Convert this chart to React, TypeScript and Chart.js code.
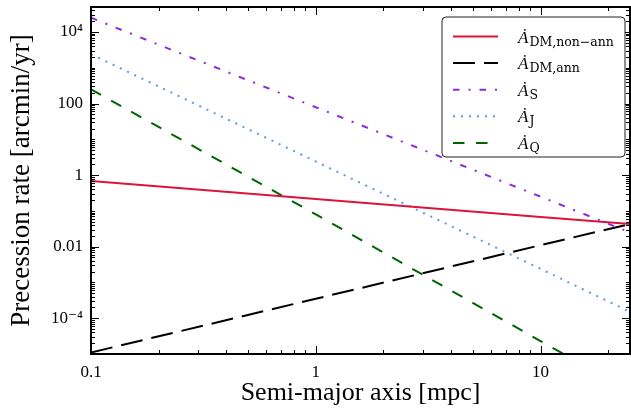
import React, { useEffect, useRef } from 'react';
import { Chart, registerables } from 'chart.js';

Chart.register(...registerables);

// Semi-major axis [mpc]
const xValues = [0.1, 1, 10, 25];
// Precession rates [arcmin/yr]
const dmNonAnn = [0.68, 0.215, 0.068, 0.043];
const dmAnn = [1.1e-5, 3.5e-4, 0.011, 0.043];
const rateS = [2.5e4, 79, 0.25, 0.025];
const rateJ = [2400, 2.4, 0.0024, 1.5e-4];
const rateQ = [250, 0.08, 2.3e-5, 9.3e-7];

const seriesLabels = ['Ȧ_DM,non−ann', 'Ȧ_DM,ann', 'Ȧ_S', 'Ȧ_J', 'Ȧ_Q'];
const legendMain = ['Ȧ', 'Ȧ', 'Ȧ', 'Ȧ', 'Ȧ'];
const legendSubs = ['DM,non−ann', 'DM,ann', 'S', 'J', 'Q'];

const xTickValues = [0.1, 1, 10];
const xTickLabels = ['0.1', '1', '10'];
const yTickValues = [1e-4, 0.01, 1, 100, 1e4];
const yTickLabels = ['10⁻⁴', '0.01', '1', '100', '10⁴'];

const xTitle = 'Semi-major axis [mpc]';
const yTitle = 'Precession rate [arcmin/yr]';

const SERIF = '"Liberation Serif", "DejaVu Serif", serif';

const styles = [
  { color: '#dc143c', dash: [] as number[] },
  { color: '#000000', dash: [22, 9] },
  { color: '#8a2be2', dash: [6.5, 9, 2, 9] },
  { color: '#6495ed', dash: [2, 6] },
  { color: '#006400', dash: [11.5, 11.5] },
];

function logTicks(min: number, max: number) {
  const out: number[] = [];
  const e0 = Math.floor(Math.log10(min));
  const e1 = Math.ceil(Math.log10(max));
  for (let e = e0; e <= e1; e++) {
    for (let k = 1; k <= 9; k++) {
      const v = k * Math.pow(10, e);
      if (v >= min * 0.9999 && v <= max * 1.0001) out.push(v);
    }
  }
  return out;
}

function isMajor(v: number, list: number[]) {
  return list.some((m) => Math.abs(Math.log10(v) - Math.log10(m)) < 1e-6);
}

const framePlugin = {
  id: 'mplFrame',
  afterDatasetsDraw(chart: any) {
    const { ctx, chartArea } = chart;
    const { left, right, top, bottom } = chartArea;
    const xs = chart.scales.x;
    const ys = chart.scales.y;
    ctx.save();
    ctx.strokeStyle = '#000';
    ctx.lineWidth = 1;
    ctx.beginPath();
    for (const v of logTicks(xs.min, xs.max)) {
      const px = Math.round(xs.getPixelForValue(v)) + 0.5;
      const len = isMajor(v, xTickValues) ? 8 : 4;
      ctx.moveTo(px, bottom);
      ctx.lineTo(px, bottom - len);
      ctx.moveTo(px, top);
      ctx.lineTo(px, top + len);
    }
    for (const v of logTicks(ys.min, ys.max)) {
      const py = Math.round(ys.getPixelForValue(v)) + 0.5;
      const len = isMajor(v, yTickValues) ? 8 : 4;
      ctx.moveTo(left, py);
      ctx.lineTo(left + len, py);
      ctx.moveTo(right, py);
      ctx.lineTo(right - len, py);
    }
    ctx.stroke();
    ctx.lineWidth = 2;
    ctx.strokeRect(left, top, right - left, bottom - top);
    ctx.restore();
  },
};

const legendPlugin = {
  id: 'texLegend',
  afterDraw(chart: any) {
    const { ctx, chartArea } = chart;
    const bw = 183;
    const bh = 140;
    const bx = chartArea.right - 5 - bw;
    const by = chartArea.top + 10;
    ctx.save();
    ctx.beginPath();
    const r = 4;
    ctx.moveTo(bx + r, by);
    ctx.lineTo(bx + bw - r, by);
    ctx.quadraticCurveTo(bx + bw, by, bx + bw, by + r);
    ctx.lineTo(bx + bw, by + bh - r);
    ctx.quadraticCurveTo(bx + bw, by + bh, bx + bw - r, by + bh);
    ctx.lineTo(bx + r, by + bh);
    ctx.quadraticCurveTo(bx, by + bh, bx, by + bh - r);
    ctx.lineTo(bx, by + r);
    ctx.quadraticCurveTo(bx, by, bx + r, by);
    ctx.closePath();
    ctx.fillStyle = '#ffffff';
    ctx.fill();
    ctx.lineWidth = 1;
    ctx.strokeStyle = '#222';
    ctx.stroke();

    chart.data.datasets.forEach((ds: any, i: number) => {
      const rowY = by + 19.5 + i * 26.6;
      ctx.beginPath();
      ctx.setLineDash(ds.borderDash || []);
      ctx.lineDashOffset = 0;
      ctx.lineCap = 'butt';
      ctx.strokeStyle = ds.borderColor;
      ctx.lineWidth = ds.borderWidth;
      ctx.moveTo(bx + 11, rowY);
      ctx.lineTo(bx + 56, rowY);
      ctx.stroke();
      ctx.setLineDash([]);

      ctx.fillStyle = '#000';
      ctx.textAlign = 'left';
      ctx.textBaseline = 'alphabetic';
      ctx.font = 'italic 17px ' + SERIF;
      const tx = bx + 76;
      ctx.fillText(legendMain[i], tx, rowY + 6);
      const w = ctx.measureText(legendMain[i]).width;
      ctx.font = '12.5px "DejaVu Serif", serif';
      ctx.fillText(legendSubs[i], tx + w + 1, rowY + 9);
    });
    ctx.restore();
  },
};

export default function App() {
  const canvasRef = useRef<HTMLCanvasElement | null>(null);

  useEffect(() => {
    const canvas = canvasRef.current;
    if (!canvas) return;
    const allSeries = [dmNonAnn, dmAnn, rateS, rateJ, rateQ];
    const chart = new Chart(canvas, {
      type: 'line',
      data: {
        datasets: allSeries.map((arr, i) => ({
          label: seriesLabels[i],
          data: xValues.map((x, j) => ({ x, y: arr[j] })),
          borderColor: styles[i].color,
          backgroundColor: styles[i].color,
          borderWidth: 2,
          borderDash: styles[i].dash,
          borderCapStyle: 'butt',
          pointRadius: 0,
          tension: 0,
          fill: false,
        })),
      },
      options: {
        responsive: false,
        animation: false,
        devicePixelRatio: 1,
        layout: { padding: { left: 0, right: 1, top: 7, bottom: 0 } },
        plugins: {
          legend: { display: false },
          tooltip: { enabled: false },
        },
        scales: {
          x: {
            type: 'logarithmic',
            position: 'bottom',
            min: 0.1,
            max: 25,
            grid: { display: false, drawTicks: false },
            border: { display: false },
            ticks: {
              color: '#000',
              font: { family: SERIF, size: 17 },
              padding: 8,
              maxRotation: 0,
              autoSkip: false,
              callback: (_v: any, idx: number) => xTickLabels[idx],
            },
            afterBuildTicks: (s: any) => {
              s.ticks = xTickValues.map((v) => ({ value: v }));
            },
            afterFit: (s: any) => {
              s.height = 55;
              s.paddingLeft = 0;
              s.paddingRight = 0;
              s.paddingTop = 0;
              s.paddingBottom = 0;
            },
            title: {
              display: true,
              text: xTitle,
              color: '#000',
              font: { family: SERIF, size: 26 },
              padding: { top: 0, bottom: 0 },
            },
          },
          y: {
            type: 'logarithmic',
            position: 'left',
            min: 1e-5,
            max: 5e4,
            grid: { display: false, drawTicks: false },
            border: { display: false },
            ticks: {
              color: '#000',
              font: { family: SERIF, size: 17 },
              padding: 8,
              autoSkip: false,
              callback: (_v: any, idx: number) => yTickLabels[idx],
            },
            afterBuildTicks: (s: any) => {
              s.ticks = yTickValues.map((v) => ({ value: v }));
            },
            afterFit: (s: any) => {
              s.width = 91;
              s.paddingLeft = 0;
              s.paddingRight = 0;
              s.paddingTop = 0;
              s.paddingBottom = 0;
            },
            title: {
              display: true,
              text: yTitle,
              color: '#000',
              font: { family: SERIF, size: 27 },
              padding: { top: 6, bottom: 0 },
            },
          },
        },
      },
      plugins: [framePlugin, legendPlugin],
    } as any);
    return () => chart.destroy();
  }, []);

  return (
    <div style={{ position: 'fixed', left: 0, top: 0, width: 631, height: 409, background: '#fff' }}>
      <canvas ref={canvasRef} width={631} height={409} style={{ display: 'block' }} />
    </div>
  );
}
